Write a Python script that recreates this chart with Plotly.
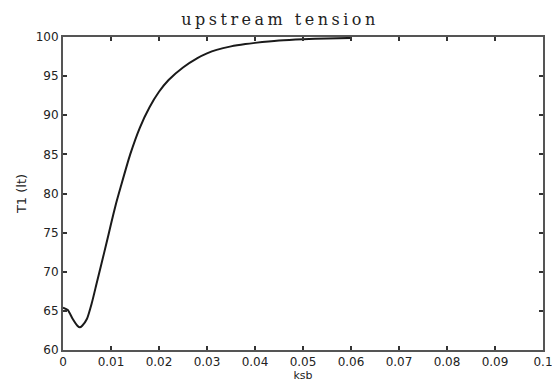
import plotly.graph_objects as go

# data
ksb = [0.0, 0.001, 0.002, 0.003, 0.0035, 0.004, 0.005, 0.006, 0.007, 0.008, 0.009,
       0.010, 0.011, 0.012, 0.014, 0.016, 0.018, 0.020, 0.022, 0.025, 0.028,
       0.030, 0.032, 0.035, 0.038, 0.040, 0.045, 0.050, 0.055, 0.060]
t1 = [65.4, 65.1, 64.0, 63.1, 62.9, 63.1, 64.0, 66.0, 68.5, 71.0, 73.5,
      76.1, 78.6, 80.8, 85.0, 88.4, 91.0, 93.0, 94.5, 96.1, 97.3,
      97.9, 98.35, 98.8, 99.1, 99.25, 99.55, 99.72, 99.82, 99.88]

x_ticks = [0, 0.01, 0.02, 0.03, 0.04, 0.05, 0.06, 0.07, 0.08, 0.09, 0.1]
x_tick_labels = ["0", "0.01", "0.02", "0.03", "0.04", "0.05", "0.06", "0.07", "0.08", "0.09", "0.1"]
y_ticks = [60, 65, 70, 75, 80, 85, 90, 95, 100]
y_tick_labels = ["60", "65", "70", "75", "80", "85", "90", "95", "100"]

title_text = "upstream tension"
x_title = "ksb"
y_title = "T1 (lt)"

fig = go.Figure()
fig.add_trace(go.Scatter(x=ksb, y=t1, mode="lines",
                         line=dict(color="#1a1a1a", width=2, shape="spline", smoothing=0.6),
                         showlegend=False, hoverinfo="skip"))

axis_common = dict(showline=True, linecolor="#555555", linewidth=2, mirror="ticks",
                   ticks="inside", ticklen=4, tickcolor="#333333", tickwidth=2,
                   showgrid=False, zeroline=False, automargin=False, ticklabeloverflow="allow",
                   tickfont=dict(family="DejaVu Sans", size=12, color="#222222"))

fig.update_layout(
    template="none",
    width=552, height=383,
    margin=dict(l=63, r=9, t=37, b=33, autoexpand=False),
    paper_bgcolor="white", plot_bgcolor="white",
    title=dict(text='<span style="letter-spacing:3.5px">' + title_text + '</span>',
               x=280 / 552, xanchor="center", xref="container", y=1 - 19 / 383, yanchor="middle", yref="container",
               font=dict(family="DejaVu Serif", size=16, color="#222222")),
    xaxis=dict(range=[0, 0.1], tickvals=x_ticks, ticktext=x_tick_labels,
               title=dict(text=x_title, standoff=0, font=dict(family="DejaVu Sans", size=11, color="#222222")),
               **axis_common),
    yaxis=dict(range=[60, 100], tickvals=y_ticks, ticktext=y_tick_labels,
               title=dict(text=y_title, font=dict(family="DejaVu Sans", size=13, color="#222222")),
               **axis_common),
)
fig.write_html("out.html", config={"displayModeBar": False},
               post_script="document.body.style.margin='0';")
